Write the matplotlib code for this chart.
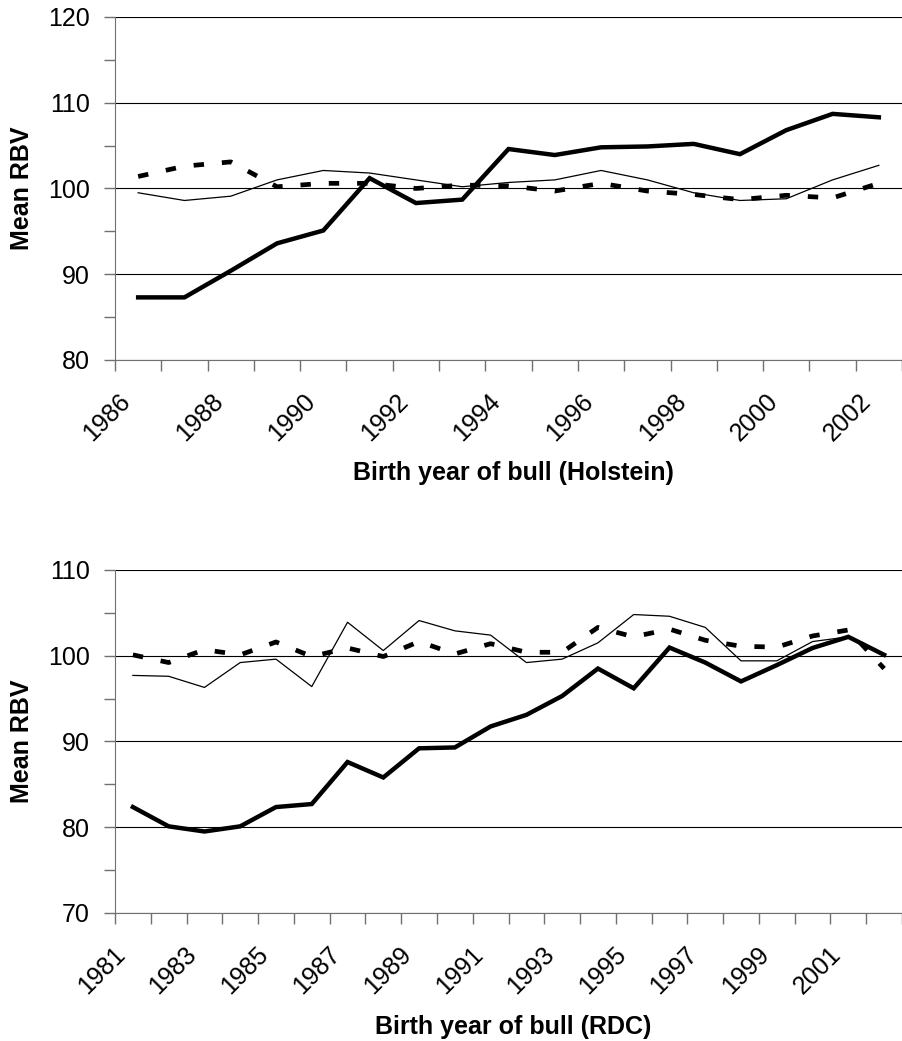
import numpy as np
import matplotlib
matplotlib.use('Agg')
import matplotlib.pyplot as plt
from matplotlib.transforms import ScaledTranslation

plt.rcParams['font.family'] = ['Liberation Sans', 'DejaVu Sans']
plt.rcParams['font.size'] = 18

# Holstein (top panel)
hol_years = list(range(1986, 2003))
hol_thick = [87.3, 87.3, 90.4, 93.6, 95.1, 101.2, 98.3, 98.7, 104.6, 103.9,
             104.8, 104.9, 105.2, 104.0, 106.8, 108.7, 108.3]
hol_thin = [99.5, 98.6, 99.1, 101.0, 102.1, 101.8, 101.0, 100.2, 100.7, 101.0,
            102.1, 101.0, 99.5, 98.6, 98.8, 101.0, 102.7]
hol_dash = [101.4, 102.6, 103.1, 100.2, 100.6, 100.6, 100.0, 100.4, 100.3, 99.7,
            100.6, 99.7, 99.3, 98.7, 99.2, 98.9, 100.6]

# RDC (bottom panel)
rdc_years = list(range(1981, 2003))
rdc_thick = [82.35, 80.1, 79.5, 80.1, 82.35, 82.7, 87.6, 85.8, 89.2, 89.3, 91.75,
             93.1, 95.3, 98.5, 96.2, 100.95, 99.2, 97.0, 98.9, 100.9, 102.2, 100.1]
rdc_thin = [97.7, 97.6, 96.3, 99.2, 99.6, 96.4, 103.9, 100.6, 104.1, 102.9, 102.4,
            99.2, 99.6, 101.5, 104.8, 104.6, 103.3, 99.4, 99.4, 101.65, 102.2, 100.1]
rdc_dash = [100.1, 99.2, 100.7, 100.1, 101.6, 99.9, 100.9, 99.9, 101.65, 100.2, 101.4,
            100.4, 100.4, 103.3, 102.2, 103.1, 101.8, 101.1, 101.0, 102.3, 103.0, 98.5]

fig = plt.figure(figsize=(9.02, 10.41), dpi=100)
ax1 = fig.add_axes([0.1275, 0.6542, 0.8725, 0.3295])
ax2 = fig.add_axes([0.1275, 0.1230, 0.8725, 0.3295])

spine_col = '#707070'


def draw_panel(ax, years, thick, thin, dash, ylim, xright, xlabel, lab_y):
    x = np.arange(len(years))
    ax.plot(x, thin, color='black', lw=0.9, zorder=3)
    ax.plot(x, dash, color='black', lw=3.4, linestyle=(0, (2.2, 3.8)),
            dash_capstyle='butt', zorder=4)
    ax.plot(x, thick, color='black', lw=3.2, solid_joinstyle='miter', zorder=5)

    ax.set_xlim(-0.5, xright)
    ax.set_ylim(*ylim)
    ax.set_yticks(np.arange(ylim[0], ylim[1] + 1, 10))
    ax.set_yticks(np.arange(ylim[0] + 5, ylim[1], 10), minor=True)
    ax.grid(axis='y', which='major', color='black', lw=0.8)
    ax.set_axisbelow(True)

    ax.set_xticks(x[::2], [str(y) for y in years[::2]])
    ax.set_xticks(np.arange(-0.5, len(years) + 0.5, 1), minor=True)
    ax.tick_params(axis='x', which='major', length=0, pad=21)
    ax.tick_params(axis='x', which='minor', length=8, width=1, color=spine_col, direction='out')
    ax.tick_params(axis='y', which='both', length=8, width=1, color=spine_col, direction='out', pad=10)
    off = ScaledTranslation(-20 / 100, 0, fig.dpi_scale_trans)
    for lab in ax.get_xticklabels():
        lab.set_rotation(45)
        lab.set_ha('right')
        lab.set_va('top')
        lab.set_rotation_mode('anchor')
        lab.set_transform(lab.get_transform() + off)

    for s in ['top', 'right']:
        ax.spines[s].set_visible(False)
    ax.spines['left'].set_color(spine_col)
    ax.spines['bottom'].set_color(spine_col)

    ax.set_ylabel('Mean RBV', fontweight='bold')
    ax.yaxis.label.set_va('center')
    ax.yaxis.set_label_coords(-0.118, 0.5)
    ax.set_xlabel(xlabel, fontweight='bold')
    ax.xaxis.label.set_va('center')
    ax.xaxis.set_label_coords(0.506, lab_y)


draw_panel(ax1, hol_years, hol_thick, hol_thin, hol_dash, (80, 120), 16.5,
           'Birth year of bull (Holstein)', -0.329)
draw_panel(ax2, rdc_years, rdc_thick, rdc_thin, rdc_dash, (70, 110), 21.25,
           'Birth year of bull (RDC)', -0.332)

fig.savefig('out.png', dpi=100)
